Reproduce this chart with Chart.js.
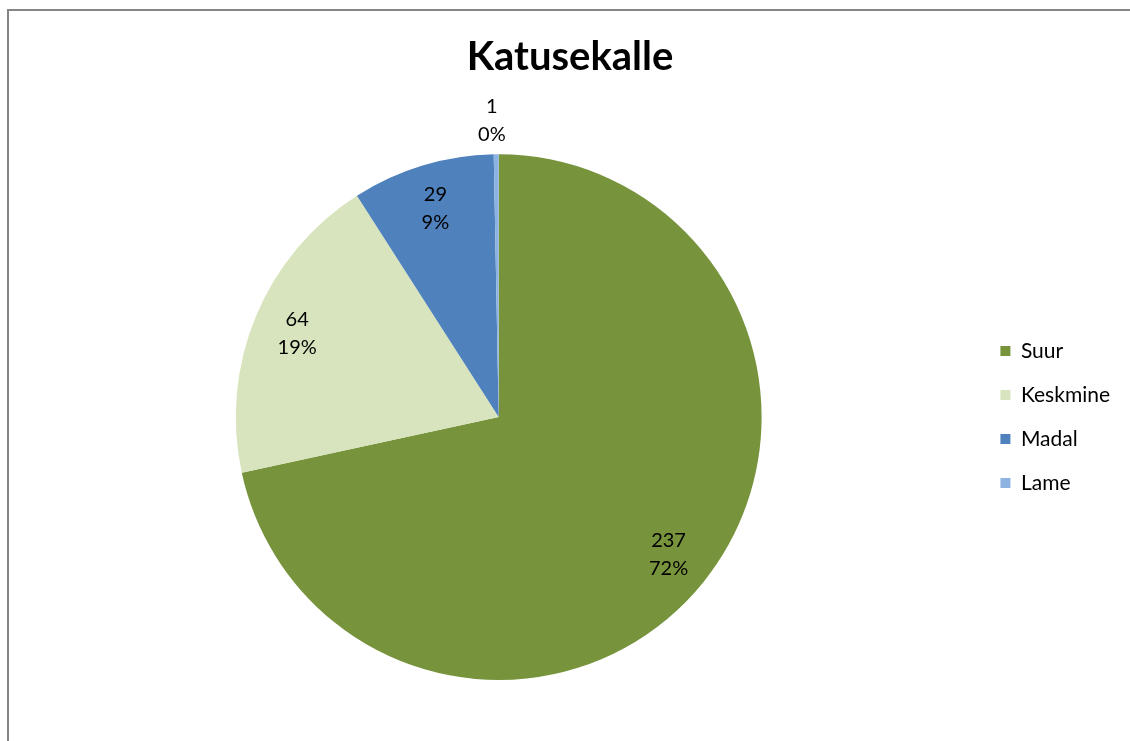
<!DOCTYPE html>
<html>
<head>
<meta charset="utf-8">
<script src="https://cdn.jsdelivr.net/npm/chart.js@4/dist/chart.umd.min.js"></script>
<style>
  html, body { margin: 0; padding: 0; background: #fff; }
  #wrap { position: relative; width: 1130px; height: 741px; overflow: hidden; }
  #frame { position: absolute; left: 7px; top: 9px; right: -10px; bottom: -10px;
           border-left: 2px solid #858585; border-top: 2px solid #858585; }
  #myChart { position: absolute; left: 0; top: 0; }
</style>
</head>
<body>
<div id="wrap">
  <div id="frame"></div>
  <canvas id="myChart" width="1130" height="741"></canvas>
</div>
<script>
// chart data
var labels = ['Suur', 'Keskmine', 'Madal', 'Lame'];
var values = [237, 64, 29, 1];
var colors = ['#77933C', '#D7E4BD', '#4F81BD', '#8DB3E2'];

// draws "value\npercent" labels like excel does
var pieLabels = {
    id: 'pieLabels',
    afterDatasetsDraw: function(chart) {
        var ctx = chart.ctx;
        var meta = chart.getDatasetMeta(0);
        var total = values.reduce(function(a, b) { return a + b; }, 0);
        ctx.save();
        ctx.font = '20px Lato';
        ctx.fillStyle = '#000';
        ctx.textAlign = 'center';
        ctx.textBaseline = 'middle';
        meta.data.forEach(function(arc, i) {
            var p = arc.getProps(['x', 'y', 'startAngle', 'endAngle', 'outerRadius']);
            var mid = (p.startAngle + p.endAngle) / 2;
            var pct = Math.round(values[i] / total * 100);
            var small = pct < 2;
            var r = small ? p.outerRadius + 34 : p.outerRadius * 0.83;
            var lx = p.x + Math.cos(mid) * r - (small ? 4 : 0);
            var ly = p.y + Math.sin(mid) * r;
            ctx.fillText(String(values[i]), lx, ly - 14);
            ctx.fillText(pct + '%', lx, ly + 14);
        });
        ctx.restore();
    }
};

var ctx = document.getElementById('myChart').getContext('2d');
var myChart = new Chart(ctx, {
    type: 'pie',
    data: {
        labels: labels,
        datasets: [{
            data: values,
            backgroundColor: colors,
            borderWidth: 0,
        }],
    },
    options: {
        responsive: false,
        animation: false,
        layout: { padding: { top: 0, bottom: 61, left: 20, right: 10 } },
        plugins: {
            title: {
                display: true,
                text: 'Katusekalle',
                color: '#000',
                font: { family: 'Lato', size: 40, weight: 'bold' },
                padding: { top: 32.6, bottom: 73.6 },
            },
            legend: {
                position: 'right',
                fullSize: false,
                labels: {
                    color: '#000',
                    font: { family: 'Lato', size: 21 },
                    boxWidth: 10,
                    boxHeight: 10,
                    padding: 23,
                },
            },
            tooltip: { enabled: false },
        },
    },
    plugins: [pieLabels],
});
</script>
</body>
</html>
